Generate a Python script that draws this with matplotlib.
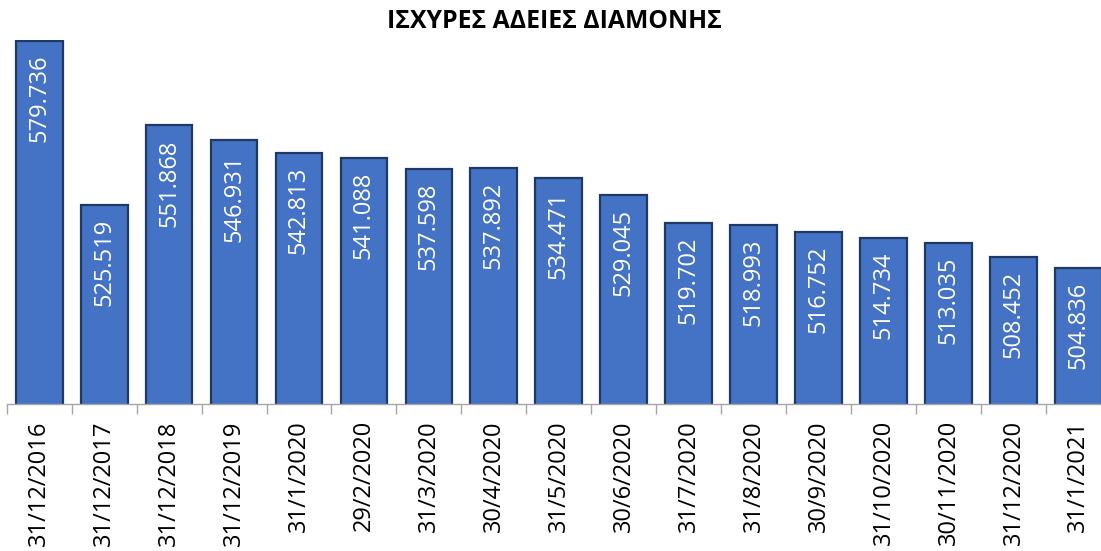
import matplotlib
matplotlib.use("Agg")
import matplotlib.pyplot as plt
import numpy as np

dates = ["31/12/2016", "31/12/2017", "31/12/2018", "31/12/2019", "31/1/2020",
         "29/2/2020", "31/3/2020", "30/4/2020", "31/5/2020", "30/6/2020",
         "31/7/2020", "31/8/2020", "30/9/2020", "31/10/2020", "30/11/2020",
         "31/12/2020", "31/1/2021"]
permits = [579.736, 525.519, 551.868, 546.931, 542.813, 541.088, 537.598, 537.892,
           534.471, 529.045, 519.702, 518.993, 516.752, 514.734, 513.035, 508.452,
           504.836]
labels = ["579.736", "525.519", "551.868", "546.931", "542.813", "541.088", "537.598",
          "537.892", "534.471", "529.045", "519.702", "518.993", "516.752", "514.734",
          "513.035", "508.452", "504.836"]

plt.rcParams["font.family"] = ["Open Sans", "DejaVu Sans"]

fig = plt.figure(figsize=(11.01, 5.51), dpi=100)
ax = fig.add_axes([6.7 / 1101, 1 - 403.5 / 551, 1104.2 / 1101, 363.2 / 551])

x = np.arange(len(dates))
bars = ax.bar(x, permits, width=0.72, color="#4472C4", edgecolor="#1F3864",
              linewidth=1.6, zorder=2)

for b, txt in zip(bars, labels):
    ax.annotate(txt, (b.get_x() + b.get_width() / 2, b.get_height()),
                xytext=(0, -10), textcoords="offset points",
                ha="center", va="top", rotation=90, color="white", fontsize=17)

ax.set_ylim(460, 580)
ax.set_xlim(-0.5, len(dates) - 0.5)

ax.set_xticks(x)
ax.set_xticklabels(dates, rotation=90, fontsize=17)
ax.set_xticks(np.arange(len(dates) + 1) - 0.5, minor=True)
ax.tick_params(axis="x", which="major", length=0, pad=12)
ax.tick_params(axis="x", which="minor", length=7, color="#A6A6A6", width=1)
ax.set_yticks([])

for s in ["top", "right", "left"]:
    ax.spines[s].set_visible(False)
ax.spines["bottom"].set_color("#A6A6A6")
ax.spines["bottom"].set_linewidth(1)

fig.text(554 / 1101, 1 - 22 / 551, "ΙΣΧΥΡΕΣ ΑΔΕΙΕΣ ΔΙΑΜΟΝΗΣ", ha="center",
         va="center", fontsize=17.8, fontweight="bold")

fig.savefig("out.png", dpi=100)
